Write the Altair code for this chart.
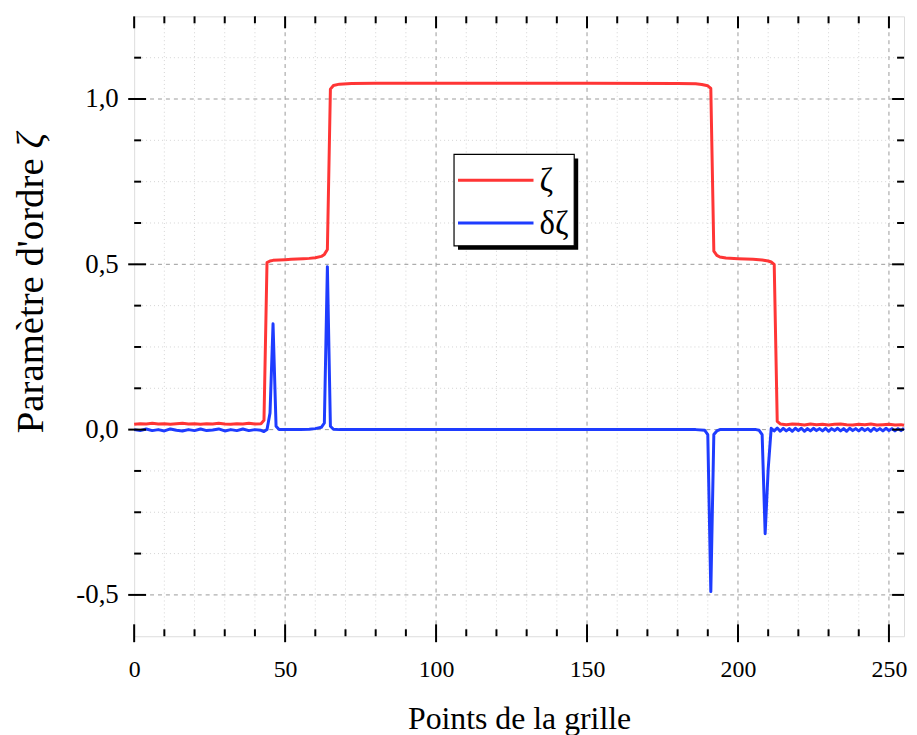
import altair as alt
import pandas as pd

# ---------------- data ----------------
zeta_x = [0, 2, 4, 6, 8, 10, 12, 14, 16, 18, 20, 22, 24, 26, 28, 30, 32, 34, 36, 38, 40, 42,
          43, 44, 45, 46, 48, 50, 52, 54, 56, 58, 60, 62, 63, 64, 65, 66, 68, 72, 80, 100,
          150, 180, 186, 188, 190, 191, 192, 193, 194, 196, 200, 205, 208, 210, 211, 212,
          213, 214, 216, 218, 220, 222, 224, 226, 228, 230, 232, 234, 236, 238, 240, 242,
          244, 246, 248, 250, 252, 254, 255]
zeta_y = [0.016, 0.018, 0.017, 0.019, 0.017, 0.018, 0.016, 0.018, 0.019, 0.017, 0.018, 0.016,
          0.018, 0.017, 0.019, 0.017, 0.016, 0.018, 0.017, 0.019, 0.017, 0.018,
          0.028, 0.505, 0.51, 0.512, 0.513, 0.514, 0.515, 0.516, 0.517, 0.518, 0.52, 0.524,
          0.53, 0.545, 1.03, 1.041, 1.045, 1.047, 1.048, 1.048,
          1.048, 1.047, 1.046, 1.044, 1.04, 1.032, 0.54, 0.527, 0.522, 0.519, 0.517, 0.515,
          0.513, 0.51, 0.507, 0.5,
          0.025, 0.017, 0.015, 0.017, 0.016, 0.014, 0.017, 0.015, 0.016, 0.014, 0.016, 0.017,
          0.015, 0.014, 0.016, 0.015, 0.017, 0.014, 0.015, 0.016, 0.014, 0.015, 0.013]

dzeta_x = [0, 2, 4, 6, 8, 10, 12, 14, 16, 18, 20, 22, 24, 26, 28, 30, 32, 34, 36, 38, 40, 42,
           43, 44, 45, 46, 47, 48, 55, 58, 60, 62, 63, 64, 65, 66, 68, 100, 150, 186, 189,
           190, 191, 192, 193, 194, 200, 206, 207, 208, 209, 210, 211,
           212, 213, 214, 215, 216, 217, 218, 219, 220, 221, 222, 223, 224, 225, 226, 227,
           228, 229, 230, 231, 232, 233, 234, 235, 236, 237, 238, 239, 240, 241, 242, 243,
           244, 245, 246, 247, 248, 249, 250, 251, 252, 253, 254, 255]
dzeta_y = [0.0, -0.003, 0.002, -0.003, 0.0, -0.004, 0.002, -0.002, -0.004, 0.0, -0.003, 0.002,
           -0.003, -0.001, 0.002, -0.004, 0.0, -0.003, 0.002, -0.003, 0.0, -0.002,
           -0.006, 0.0, 0.05, 0.32, 0.01, 0.0, 0.0, 0.001, 0.003, 0.007, 0.02, 0.493, 0.01,
           0.001, 0.0, 0.0, 0.0, 0.0, -0.002,
           -0.015, -0.49, -0.015, -0.004, 0.0, 0.0, 0.0, -0.002, -0.015, -0.315, -0.12, 0.004,
           -0.004, 0.005, -0.005, 0.004, -0.004, 0.003, -0.005, 0.004, -0.003, 0.004, -0.005,
           0.003, -0.004, 0.004, -0.003, 0.003, -0.004, 0.004, -0.005, 0.003, -0.003, 0.004,
           -0.004, 0.003, -0.005, 0.004, -0.003, 0.003, -0.004, 0.004, -0.003, 0.003, -0.005,
           0.004, -0.003, 0.003, -0.004, 0.004, -0.003, 0.003, -0.004, 0.003, -0.003, 0.004]

series_names = ["ζ", "δζ"]
series_colors = ["#FF3535", "#1E3CFF"]

x_major = [0, 50, 100, 150, 200, 250]
x_minor = [10, 20, 30, 40, 60, 70, 80, 90, 110, 120, 130, 140, 160, 170, 180, 190,
           210, 220, 230, 240]
y_major = [-0.5, 0.0, 0.5, 1.0]
y_minor = [-0.375, -0.25, -0.125, 0.125, 0.25, 0.375, 0.625, 0.75, 0.875, 1.125]

x_title = "Points de la grille"
y_title_main = "Paramètre d'ordre"
y_title_symbol = "ζ"

# ---------------- layout ----------------
W, H = 775, 624
FONT = "Liberation Serif"

df = pd.concat([
    pd.DataFrame({"x": zeta_x, "y": zeta_y, "s": series_names[0], "o": 0}),
    pd.DataFrame({"x": dzeta_x, "y": dzeta_y, "s": series_names[1], "o": 1}),
])

xs = alt.Scale(domain=[0, 255], nice=False, zero=False)
ys = alt.Scale(domain=[-0.625, 1.25], nice=False, zero=False)

XAXIS = alt.Axis(values=x_major, ticks=False, domain=False, grid=False,
                 labelFont=FONT, labelFontSize=24, labelColor="black",
                 labelPadding=22, labelFlush=False,
                 title=x_title, titleFont=FONT, titleFontSize=32,
                 titleFontWeight="normal", titleColor="black",
                 titleBaseline="alphabetic", titleY=93)
YAXIS = alt.Axis(values=y_major, ticks=False, domain=False, grid=False,
                 labelExpr="replace(replace(format(datum.value, '.1f'), '.', ','), '\u2212', '-')",
                 labelFont=FONT, labelFontSize=27, labelColor="black",
                 labelPadding=16, labelFlush=False, title=None)

xmaj = pd.DataFrame({"v": x_major})
xmin = pd.DataFrame({"v": x_minor})
ymaj = pd.DataFrame({"v": y_major})
ymin = pd.DataFrame({"v": y_minor})
one = pd.DataFrame({"a": [0]})


def vrule(data, y0, y1, **kw):
    return alt.Chart(data).mark_rule(**kw).encode(
        x=alt.X("v:Q", scale=xs, axis=XAXIS), y=alt.value(y0), y2=alt.value(y1))


def hrule(data, x0, x1, **kw):
    return alt.Chart(data).mark_rule(**kw).encode(
        y=alt.Y("v:Q", scale=ys, axis=YAXIS), x=alt.value(x0), x2=alt.value(x1))


minor_grid = dict(color="#d4d4d4", strokeWidth=1, strokeDash=[1, 3])
major_grid = dict(color="#9a9a9a", strokeWidth=1, strokeDash=[4, 4])

grids = [
    vrule(xmin, 0, H, **minor_grid),
    hrule(ymin, 0, W, **minor_grid),
    vrule(pd.DataFrame({"v": x_major[1:]}), 0, H, **major_grid),
    hrule(ymaj, 0, W, **major_grid),
]

lines = alt.Chart(df).mark_line(strokeWidth=3, strokeJoin="round").encode(
    x=alt.X("x:Q", scale=xs, axis=XAXIS),
    y=alt.Y("y:Q", scale=ys, axis=YAXIS),
    color=alt.Color("s:N", scale=alt.Scale(domain=series_names, range=series_colors),
                    legend=None),
    detail="o:N",
    order="x:Q",
)

tk = dict(color="black", strokeWidth=2)
ticks = [
    vrule(xmaj, H - 12, H + 6, **tk),
    vrule(xmin, H - 7, H, **tk),
    vrule(xmaj, 0, 12, **tk),
    vrule(xmin, 0, 7, **tk),
    hrule(ymaj, -6, 12, **tk),
    hrule(ymin, 0, 7, **tk),
    hrule(ymaj, W - 12, W, **tk),
    hrule(ymin, W - 7, W, **tk),
]

# y-axis title: regular text followed by an italic zeta
YT_X = -92        # baseline position (plot coordinates)
YT_SPLIT = 143    # where the regular part ends (plot coordinates)
ytitle = [
    alt.Chart(one).mark_text(text=y_title_main, font=FONT, fontSize=39, angle=270,
                             align="right", baseline="alphabetic", color="black").encode(
        x=alt.value(YT_X), y=alt.value(YT_SPLIT)),
    alt.Chart(one).mark_text(text=y_title_symbol, font=FONT, fontSize=39, angle=270,
                             fontStyle="italic", align="left", baseline="alphabetic",
                             color="black").encode(
        x=alt.value(YT_X), y=alt.value(YT_SPLIT - 10)),
]

# legend box (plot coordinates)
LX0, LX1, LY0, LY1 = 322, 443, 139, 231
shadow = alt.Chart(one).mark_rect(color="black").encode(
    x=alt.value(LX0 + 4), x2=alt.value(LX1 + 4), y=alt.value(LY0 + 4), y2=alt.value(LY1 + 4))
box = alt.Chart(one).mark_rect(fill="white", stroke="black", strokeWidth=1.2).encode(
    x=alt.value(LX0), x2=alt.value(LX1), y=alt.value(LY0), y2=alt.value(LY1))
legend_layers = [shadow, box]
for i, (name, col) in enumerate(zip(series_names, series_colors)):
    yy = 165 + i * 43
    legend_layers.append(alt.Chart(one).mark_rule(color=col, strokeWidth=3).encode(
        x=alt.value(LX0 + 4), x2=alt.value(LX0 + 80), y=alt.value(yy)))
    legend_layers.append(alt.Chart(one).mark_text(
        text=name, font=FONT, fontSize=33, align="left", baseline="middle",
        color="black").encode(x=alt.value(LX0 + 86), y=alt.value(yy + 1)))

chart = alt.layer(*grids, lines, *ticks, *ytitle, *legend_layers).properties(
    width=W, height=H,
    autosize=alt.AutoSizeParams(type="none"),
    padding={"left": 127, "top": 6, "right": 5, "bottom": 97},
).configure_view(stroke="black", strokeWidth=2).configure(background="white")

chart.save("out.html", embed_options={"renderer": "svg", "actions": False})
